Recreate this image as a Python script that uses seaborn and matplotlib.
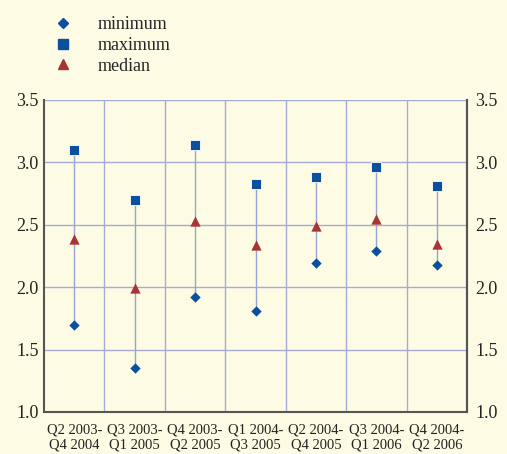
import numpy as np
import pandas as pd
import matplotlib
matplotlib.use("Agg")
import matplotlib.pyplot as plt
import seaborn as sns
from matplotlib.lines import Line2D

## data
periods = ["Q2 2003-\nQ4 2004", "Q3 2003-\nQ1 2005", "Q4 2003-\nQ2 2005", "Q1 2004-\nQ3 2005",
           "Q2 2004-\nQ4 2005", "Q3 2004-\nQ1 2006", "Q4 2004-\nQ2 2006"]
minimum = [1.70, 1.35, 1.92, 1.81, 2.19, 2.29, 2.18]
maximum = [3.10, 2.70, 3.14, 2.83, 2.88, 2.96, 2.81]
median = [2.39, 1.99, 2.53, 2.34, 2.49, 2.55, 2.35]
yticks = [1.0, 1.5, 2.0, 2.5, 3.0, 3.5]

bg = "#fdfbe3"
grid_col = "#a4acd6"
blue = "#0b4f9f"
red = "#a83434"
spine_col = "#555555"

sns.set_style("white")
plt.rcParams['font.family'] = ['Liberation Serif', 'DejaVu Serif']

df = pd.DataFrame({"x": np.arange(len(periods)), "minimum": minimum,
                   "maximum": maximum, "median": median})

fig = plt.figure(figsize=(5.07, 4.54), dpi=100, facecolor=bg)
ax = fig.add_axes([44 / 507, 42 / 454, 423 / 507, 312 / 454])
ax.set_facecolor(bg)

# min-max connectors
ax.vlines(df["x"], df["minimum"], df["maximum"], color="#9aa5cf", linewidth=1.0, zorder=2)

sns.scatterplot(data=df, x="x", y="minimum", marker="D", s=28, color=blue,
                edgecolor=blue, linewidth=0, ax=ax, zorder=3)
sns.scatterplot(data=df, x="x", y="maximum", marker="s", s=60, color=blue,
                edgecolor="white", linewidth=0.6, ax=ax, zorder=3)
sns.scatterplot(data=df, x="x", y="median", marker="^", s=55, color=red,
                edgecolor=red, linewidth=0, ax=ax, zorder=3)

ax.set_xlim(-0.5, len(periods) - 0.5)
ax.set_ylim(1.0, 3.5)
ax.set_xlabel(None)
ax.set_ylabel(None)

# grid
for yv in yticks[1:]:
    ax.axhline(yv, color=grid_col, linewidth=1.0, zorder=1)
for xv in np.arange(0.5, len(periods) - 0.5, 1):
    ax.axvline(xv, color=grid_col, linewidth=1.0, zorder=1)

ax.set_xticks(df["x"])
ax.set_xticklabels(periods, fontsize=10.5, linespacing=1.2)
ax.set_xticks(np.arange(-0.5, len(periods), 1), minor=True)
ax.tick_params(axis="x", which="major", length=0, pad=8, colors="#222222")
ax.tick_params(axis="x", which="minor", length=4, width=1, color=spine_col, direction="out")

ax.set_yticks(yticks)
ax.set_yticklabels([f"{v:.1f}" for v in yticks], fontsize=13)
ax.tick_params(axis="y", length=0, pad=4, colors="#222222")

for s in ["top"]:
    ax.spines[s].set_visible(False)
for s in ["left", "right", "bottom"]:
    ax.spines[s].set_color(spine_col)
    ax.spines[s].set_linewidth(1.5)

ax2 = ax.twinx()
ax2.set_ylim(1.0, 3.5)
ax2.set_yticks(yticks)
ax2.set_yticklabels([f"{v:.1f}" for v in yticks], fontsize=13)
ax2.tick_params(axis="y", length=0, pad=6, colors="#222222")
ax2.spines["top"].set_visible(False)
ax2.spines["right"].set_color(spine_col)
ax2.spines["right"].set_linewidth(1.5)
ax2.spines["left"].set_visible(False)
ax2.spines["bottom"].set_visible(False)
ax2.grid(False)

handles = [
    Line2D([], [], marker="D", linestyle="none", color=blue, markersize=5.5),
    Line2D([], [], marker="s", linestyle="none", color=blue, markersize=7),
    Line2D([], [], marker="^", linestyle="none", color=red, markersize=7),
]
fig.legend(handles, ["minimum", "maximum", "median"], loc="upper left",
           bbox_to_anchor=(47 / 507, 0.98), frameon=False, fontsize=13,
           handlelength=1.0, handletextpad=1.39, labelspacing=0.2, borderaxespad=0)

fig.savefig("out.png", dpi=100, facecolor=bg)
